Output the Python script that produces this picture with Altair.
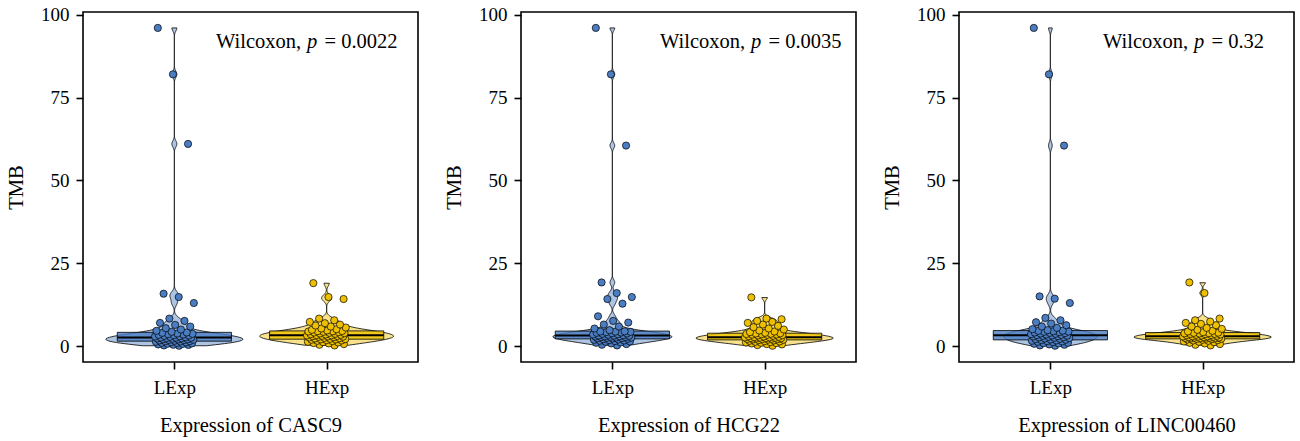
import altair as alt
import pandas as pd

genes = ["CASC9", "HCG22", "LINC00460"]
pvalues = ["0.0022", "0.0035", "0.32"]
groups = ["LExp", "HExp"]
colors = ["#4A7DC2", "#EFC000"]

casc9_lexp = [0.1, 0.2, 0.35, 0.4, 0.5, 0.65, 0.7, 0.8, 0.95, 1.0, 1.1, 1.2, 1.3, 1.4, 1.45,
              1.5, 1.6, 1.7, 1.8, 1.85, 1.9, 2.0, 2.05, 2.1, 2.2, 2.3, 2.35, 2.4, 2.5, 2.55,
              2.6, 2.7, 2.8, 2.9, 3.0, 3.1, 3.2, 3.3, 3.4, 3.5, 3.6, 3.7, 3.8, 4.0, 4.1,
              4.3, 4.6, 5.0, 5.4, 5.9, 6.4, 7.0, 7.6, 8.3, 13.0, 14.8, 15.8, 61.0, 82.0, 96.0]
casc9_hexp = [0.2, 0.4, 0.6, 0.8, 0.9, 1.1, 1.2, 1.3, 1.5, 1.6, 1.7, 1.8, 1.9, 2.0, 2.05,
              2.1, 2.2, 2.3, 2.4, 2.5, 2.6, 2.7, 2.8, 2.85, 2.9, 3.0, 3.05, 3.1, 3.2, 3.25,
              3.3, 3.4, 3.5, 3.6, 3.7, 3.8, 3.9, 4.0, 4.1, 4.2, 4.3, 4.4, 4.45, 4.5, 4.55,
              4.7, 4.9, 5.1, 5.3, 5.6, 5.9, 6.2, 6.5, 6.9, 7.3, 7.8, 8.3, 14.2, 14.8, 19.0]
hcg22_lexp = [0.2, 0.4, 0.6, 0.8, 1.0, 1.1, 1.3, 1.4, 1.5, 1.6, 1.7, 1.8, 1.9, 2.0, 2.1,
              2.2, 2.3, 2.35, 2.4, 2.5, 2.55, 2.6, 2.7, 2.75, 2.8, 2.9, 2.95, 3.0, 3.1, 3.15,
              3.2, 3.3, 3.4, 3.5, 3.6, 3.7, 3.8, 3.9, 4.0, 4.1, 4.2, 4.3, 4.35, 4.4, 4.45,
              4.8, 5.3, 5.9, 6.5, 7.1, 7.6, 9.0, 12.8, 14.2, 14.8, 16.0, 19.2, 60.5, 82.0, 96.0]
hcg22_hexp = [0.1, 0.3, 0.5, 0.6, 0.8, 0.9, 1.0, 1.1, 1.2, 1.3, 1.4, 1.5, 1.6, 1.7, 1.8,
              1.9, 1.95, 2.0, 2.05, 2.1, 2.15, 2.2, 2.3, 2.35, 2.4, 2.45, 2.5, 2.55, 2.6, 2.65,
              2.7, 2.8, 2.9, 3.0, 3.1, 3.2, 3.3, 3.4, 3.45, 3.5, 3.6, 3.65, 3.7, 3.8, 3.85,
              4.0, 4.2, 4.4, 4.7, 5.0, 5.3, 5.7, 6.1, 6.5, 7.0, 7.3, 7.6, 8.1, 8.3, 14.7]
linc_lexp = [0.1, 0.2, 0.4, 0.5, 0.7, 0.8, 0.9, 1.0, 1.2, 1.3, 1.4, 1.5, 1.6, 1.7, 1.8,
             1.9, 2.0, 2.1, 2.2, 2.3, 2.4, 2.5, 2.6, 2.7, 2.8, 2.9, 3.0, 3.1, 3.15, 3.2,
             3.3, 3.4, 3.5, 3.6, 3.7, 3.8, 3.9, 4.0, 4.1, 4.2, 4.3, 4.4, 4.5, 4.6, 4.65,
             4.8, 5.1, 5.5, 5.9, 6.3, 6.8, 7.2, 7.8, 8.5, 13.0, 14.3, 15.0, 60.5, 82.0, 96.0]
linc_hexp = [0.2, 0.4, 0.6, 0.8, 1.0, 1.2, 1.3, 1.4, 1.6, 1.7, 1.8, 1.9, 2.0, 2.1, 2.15,
             2.2, 2.25, 2.3, 2.35, 2.4, 2.45, 2.5, 2.55, 2.6, 2.65, 2.7, 2.8, 2.85, 2.9, 2.95,
             3.0, 3.1, 3.2, 3.3, 3.35, 3.4, 3.5, 3.6, 3.65, 3.7, 3.8, 3.85, 3.9, 4.0, 4.05,
             4.2, 4.4, 4.6, 4.9, 5.2, 5.5, 5.9, 6.3, 6.7, 7.0, 7.4, 7.8, 8.3, 16.0, 19.2]

series = [(casc9_lexp, casc9_hexp), (hcg22_lexp, hcg22_hexp), (linc_lexp, linc_hexp)]
text_left = [133, 139, 144]

FONT = "Liberation Serif"
POS = "datum.group == 'LExp' ? 1 : 2"

xscale = alt.Scale(domain=[0.4, 2.6], nice=False, zero=False)
yscale = alt.Scale(domain=[-4.8, 100.8], nice=False, zero=False)
cscale = alt.Scale(domain=groups, range=colors)


def panel(gene, pval, lexp, hexp, tx):
    df = pd.DataFrame({"group": ["LExp"] * len(lexp) + ["HExp"] * len(hexp),
                       "value": lexp + hexp})
    base = alt.Chart(df)
    xaxis = alt.Axis(values=[1, 2], labelExpr="datum.value == 1 ? 'LExp' : 'HExp'",
                     title=f"Expression of {gene}", grid=False)
    yaxis = alt.Axis(values=[0, 25, 50, 75, 100], title="TMB", grid=False)
    col = alt.Color("group:N", scale=cscale, legend=None)

    violin = base.transform_joinaggregate(
        gmin="min(value)", gmax="max(value)", groupby=["group"]
    ).transform_density(
        "value", groupby=["group", "gmin", "gmax"], as_=["value", "density"], steps=600
    ).transform_filter(
        "datum.value >= datum.gmin && datum.value <= datum.gmax"
    ).transform_joinaggregate(maxd="max(density)").transform_calculate(
        pos=POS
    ).transform_calculate(
        lo="datum.pos - datum.density / datum.maxd * 0.45",
        hi="datum.pos + datum.density / datum.maxd * 0.45",
    ).mark_area(orient="horizontal", fillOpacity=0.45, stroke="black", strokeWidth=0.8).encode(
        y=alt.Y("value:Q", scale=yscale, axis=yaxis),
        x=alt.X("lo:Q", scale=xscale, axis=xaxis),
        x2="hi:Q",
        color=col,
    )

    stats = base.transform_aggregate(
        q1="q1(value)", med="median(value)", q3="q3(value)", groupby=["group"]
    ).transform_calculate(pos=POS).transform_calculate(
        bl="datum.pos - 0.375", br="datum.pos + 0.375"
    )
    box = stats.mark_rect(stroke="black", strokeWidth=0.8, fillOpacity=0.8).encode(
        x=alt.X("bl:Q", scale=xscale), x2="br:Q",
        y=alt.Y("q1:Q", scale=yscale), y2="q3:Q", color=col,
    )
    med = stats.mark_rule(color="black", strokeWidth=2).encode(
        x=alt.X("bl:Q", scale=xscale), x2="br:Q", y=alt.Y("med:Q", scale=yscale)
    )

    pts = base.transform_window(rn="row_number()").transform_calculate(
        pos=POS
    ).transform_calculate(
        jx="datum.pos + ((datum.rn * 0.618034) % 1 - 0.5) * 0.26"
    ).mark_circle(size=52, opacity=1, stroke="black", strokeWidth=0.7).encode(
        x=alt.X("jx:Q", scale=xscale), y=alt.Y("value:Q", scale=yscale), color=col
    )

    tdf = pd.DataFrame({"a": ["Wilcoxon,"], "b": ["p"], "c": [f"= {pval}"]})
    tbase = alt.Chart(tdf)
    common = dict(fontSize=20.5, font=FONT, align="left", baseline="middle", color="black")
    t1 = tbase.mark_text(**common).encode(x=alt.value(tx), y=alt.value(30), text="a:N")
    t2 = tbase.mark_text(fontStyle="italic", dx=91, **common).encode(
        x=alt.value(tx), y=alt.value(30), text="b:N")
    t3 = tbase.mark_text(dx=108.5, **common).encode(
        x=alt.value(tx), y=alt.value(30), text="c:N")

    return alt.layer(violin, box, med, pts, t1, t2, t3).properties(width=335, height=350)


panels = [panel(g, p, s[0], s[1], tx) for g, p, s, tx in zip(genes, pvalues, series, text_left)]

chart = alt.hconcat(*panels, spacing=24).properties(
    padding={"left": 5, "top": 4, "right": 2, "bottom": 0}
).configure_view(stroke="black", strokeWidth=1.6).configure_axis(
    domain=False, ticks=True, tickColor="black", tickWidth=1.6, tickSize=7,
    labelFont=FONT, labelFontSize=19, labelColor="black", labelPadding=3,
    titleFont=FONT, titleFontSize=20.5, titleFontWeight="normal", titleColor="black",
).configure_axisX(labelPadding=9, titlePadding=18).configure_axisY(labelPadding=7, titlePadding=14)

chart.save("out.html", embed_options={"renderer": "svg", "actions": False})
